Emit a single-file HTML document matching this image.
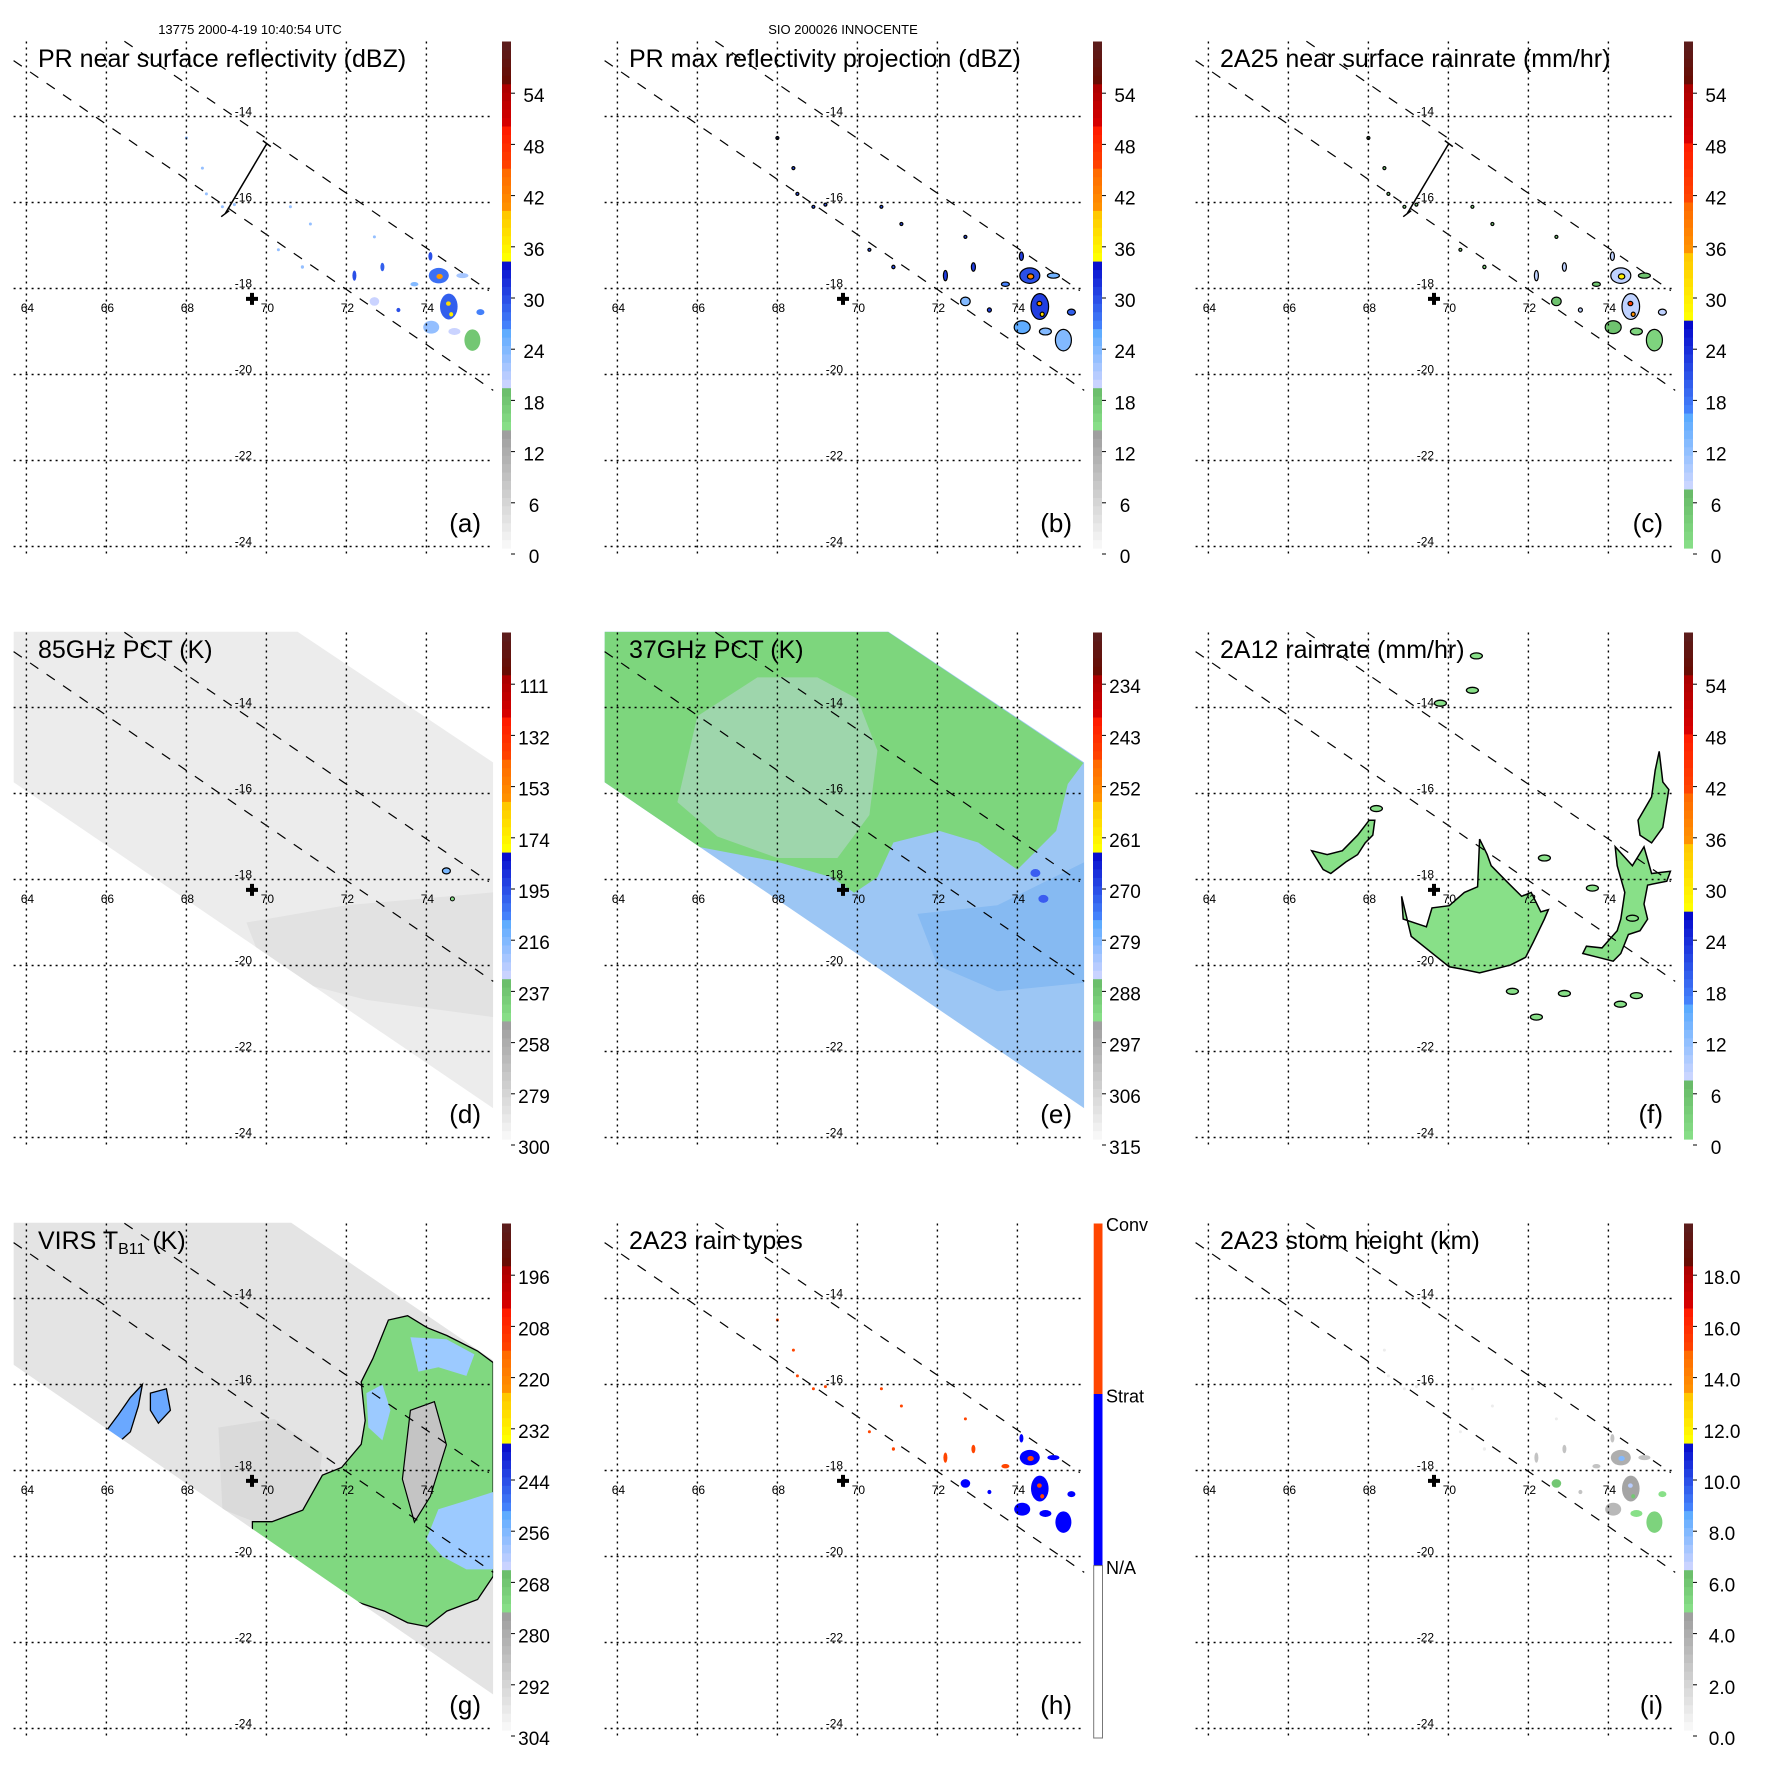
<!DOCTYPE html>
<html><head><meta charset="utf-8"><title>TRMM INNOCENTE 9-panel</title>
<style>
html,body{margin:0;padding:0;background:#fff;}
svg{display:block;font-family:"Liberation Sans",Arial,sans-serif;}
</style></head>
<body>
<svg id="fig" width="1771" height="1771" viewBox="0 0 1771 1771" xmlns="http://www.w3.org/2000/svg">
<rect x="0" y="0" width="1771" height="1771" fill="#fff"/>
<text x="250" y="34" font-size="13" text-anchor="middle">13775 2000-4-19 10:40:54 UTC</text>
<text x="843" y="34" font-size="13" text-anchor="middle">SIO 200026 INNOCENTE</text>
</svg>
<script>
// ---- axis data ----
const lonTicks=[64,66,68,70,72,74];
const latTicks=[-14,-16,-18,-20,-22,-24];
const stormCenter=[69.64,-18.24];
const swathUpper=[[66.45,-12.25],[75.56,-18.05]];
const swathLower=[[63.68,-12.7],[75.67,-20.37]];
const crossSection=[[70.01,-14.63],[68.97,-16.26]];
// colorbar labels
const labelsDBZ=['0','6','12','18','24','30','36','42','48','54'];
const labels85=['300','279','258','237','216','195','174','153','132','111'];
const labels37=['315','306','297','288','279','270','261','252','243','234'];
const labelsRain=['0','6','12','18','24','30','36','42','48','54'];
const labelsVirs=['304','292','280','268','256','244','232','220','208','196'];
const labelsHt=['0.0','2.0','4.0','6.0','8.0','10.0','12.0','14.0','16.0','18.0'];
// storm cells seen by PR: lon, lat, rx(deg), ry(deg)
const cellLon=[74.31,74.33,74.56,74.55,74.62,74.12,75.35,75.15,74.9,72.7,72.2,72.9,73.3,74.1,73.7,74.7,68.0,68.4,68.5,68.9,69.2,70.6,71.1,70.9,72.7,70.3];
const cellLat=[-17.70,-17.72,-18.42,-18.35,-18.6,-18.9,-18.55,-19.2,-17.7,-18.3,-17.7,-17.5,-18.5,-17.25,-17.9,-19.0,-14.5,-15.2,-15.8,-16.1,-16.05,-16.1,-16.5,-17.5,-16.8,-17.1];
const cellRx=[0.25,0.08,0.22,0.06,0.05,0.2,0.1,0.2,0.15,0.12,0.05,0.05,0.05,0.05,0.1,0.15,0.03,0.03,0.03,0.03,0.03,0.03,0.03,0.04,0.03,0.03];
const cellRy=[0.18,0.06,0.3,0.05,0.05,0.15,0.07,0.25,0.06,0.1,0.12,0.1,0.05,0.1,0.05,0.08,0.03,0.03,0.03,0.03,0.03,0.03,0.03,0.04,0.03,0.03];
const dbzNear=[28,40,29,38,36,23,27,18,22,20,30,29,30,30,24,20,23,23,23,23,23,23,23,23,23,23];
const dbzMax=[30,42,31,40,38,26,29,24,25,24,31,31,31,31,27,24,30,30,30,30,30,30,30,30,30,30];
const rainPR=[3,10,3,14,12,2,3,1,2,2,3,3,3,3,2,1,1,1,1,1,1,1,1,1,1,1];
const rainType=[1,2,1,2,2,1,1,1,1,1,2,2,1,1,2,1,2,2,2,2,2,2,2,2,2,2];
const stormHt=[4,8,4.5,7,6,3.5,5,5.5,3,6,3,3,3,3,3,5,1,1,1,1,1,1,1,1,1,1];
// 2A12 rain areas (lon,lat polygons)
const rain12Central=[[68.83,-18.39],[68.87,-18.92],[69.45,-19.10],[69.59,-18.66],[70.02,-18.61],[70.4,-18.30],[70.73,-18.17],[70.78,-17.06],[70.97,-17.42],[71.07,-17.68],[71.45,-18.04],[71.83,-18.39],[72.07,-18.30],[72.31,-18.75],[72.5,-18.70],[72.4,-18.92],[72.12,-19.46],[71.93,-19.81],[71.55,-19.99],[70.78,-20.17],[70.31,-20.08],[70.02,-20.03],[69.07,-19.32]];
const rain12West=[[66.58,-17.33],[66.97,-17.42],[67.35,-17.33],[67.73,-16.97],[68.02,-16.62],[68.16,-16.62],[68.11,-16.97],[67.92,-17.15],[67.73,-17.42],[67.44,-17.59],[67.06,-17.86],[66.87,-17.77]];
const rain12East=[[74.17,-17.24],[74.6,-17.68],[74.89,-17.24],[75.08,-17.86],[75.55,-17.81],[75.46,-18.04],[74.98,-18.13],[74.89,-18.57],[74.98,-18.92],[74.79,-19.19],[74.5,-19.28],[74.31,-19.72],[74.12,-19.90],[73.74,-19.81],[73.36,-19.72],[73.45,-19.55],[73.84,-19.59],[74.22,-19.19],[74.31,-18.92],[74.41,-18.30],[74.22,-17.68]];
const rain12North=[[74.74,-16.62],[75.08,-16.08],[75.17,-15.46],[75.27,-15.02],[75.36,-15.73],[75.51,-15.91],[75.36,-16.79],[75.08,-17.15],[74.79,-16.97]];
const rain12SmallLon=[74.3,72.2,71.6,74.7,70.6,70.7,69.8,72.9,73.6,72.4,68.2,74.6];
const rain12SmallLat=[-20.9,-21.2,-20.6,-20.7,-13.6,-12.8,-13.9,-20.65,-18.2,-17.5,-16.35,-18.9];
// swath polygons
const tmiSwath=[[63.68,-12.24],[70.78,-12.24],[75.67,-15.28],[75.67,-23.32],[63.68,-15.74]];
const virsSwath=[[63.68,-12.24],[70.62,-12.24],[75.67,-15.44],[75.67,-23.21],[63.68,-15.54]];
const pct85Dark=[[69.5,-19.0],[72.0,-18.6],[75.67,-18.3],[75.67,-21.2],[72.5,-20.8],[70.0,-20.2]];
const pct37Green=[[63.68,-12.24],[70.76,-12.24],[75.65,-15.29],[75.26,-15.78],[74.97,-16.87],[74.0,-17.77],[73.02,-17.14],[72.05,-16.87],[70.9,-17.14],[70.5,-17.95],[69.92,-18.31],[69.36,-17.95],[68.0,-17.59],[65.96,-17.23],[63.66,-15.74]];
const pct37Mixed=[[66.0,-14.2],[67.5,-13.3],[69.0,-13.3],[70.0,-13.8],[70.5,-15.0],[70.3,-16.5],[69.5,-17.5],[68.0,-17.5],[66.5,-17.0],[65.5,-16.2]];
const pct37Dark=[[71.5,-18.8],[73.5,-18.6],[75.67,-17.6],[75.67,-20.4],[73.5,-20.6],[72.0,-20.0]];
const virsGreen=[[69.65,-19.19],[70.14,-19.19],[70.91,-18.92],[71.40,-18.11],[71.88,-17.93],[72.37,-17.39],[72.47,-16.84],[72.37,-15.94],[72.66,-15.40],[73.05,-14.50],[73.53,-14.40],[74.02,-14.68],[74.51,-14.86],[75.28,-15.22],[75.67,-15.49],[75.67,-20.46],[75.28,-21.00],[74.51,-21.27],[74.02,-21.63],[73.53,-21.54],[72.95,-21.27],[72.08,-21.00],[71.59,-20.64],[70.91,-20.19],[70.14,-19.82],[69.65,-19.55]];
const virsGrayIn=[[73.6,-16.6],[74.2,-16.4],[74.5,-17.4],[74.1,-18.6],[73.7,-19.2],[73.4,-18.2]];
const virsBlue1=[[74.3,-18.9],[75.0,-18.7],[75.67,-18.5],[75.67,-20.3],[75.0,-20.3],[74.4,-20.0],[74.0,-19.6]];
const virsBlue2=[[73.6,-14.9],[74.5,-14.95],[75.2,-15.3],[75.0,-15.8],[74.3,-15.6],[73.8,-15.7]];
const virsBlue3=[[72.5,-16.2],[72.9,-16.0],[73.1,-16.6],[72.9,-17.3],[72.55,-17.0]];
const virsWest=[[65.9,-17.2],[66.3,-16.7],[66.6,-16.3],[66.9,-16.0],[66.8,-16.5],[66.6,-17.1],[66.3,-17.35]];
const virsWest2=[[67.1,-16.2],[67.5,-16.1],[67.6,-16.6],[67.3,-16.9],[67.1,-16.6]];
const virsEye=[[68.8,-17.0],[70.2,-16.8],[71.4,-17.6],[71.2,-18.9],[70.0,-19.3],[68.9,-18.9]];

const OFF=591;
function px(lon){return 26.4+(lon-64)*40;}
function py(lat){return 116.5+(-14-lat)*43;}
const svg=document.getElementById('fig');
const NS='http://www.w3.org/2000/svg';
function mk(tag,attrs,parent){const e=document.createElementNS(NS,tag);for(const k in attrs)e.setAttribute(k,attrs[k]);(parent||svg).appendChild(e);return e;}
function poly(pts){return pts.map(p=>px(p[0]).toFixed(1)+','+py(p[1]).toFixed(1)).join(' ');}

const bandsRef=[[0,0.238,'#fafafa','#9a9a9a'],[0.238,0.322,'#88e088','#66b866'],[0.322,0.43,'#ccd4ff','#5aaaff'],[0.43,0.575,'#4a8cff','#0000c8'],[0.575,0.659,'#ffff00','#ffc800'],[0.659,0.743,'#ff9900','#ff6a00'],[0.743,0.828,'#ff4a00','#ff1a00'],[0.828,0.916,'#dd0000','#a80000'],[0.916,1,'#6a0a00','#5a1e1e']];
const bandsRain=[[0,0.117,'#88e088','#66b866'],[0.117,0.26,'#d0d8ff','#5aaaff'],[0.26,0.456,'#4a8cff','#0000c8'],[0.456,0.577,'#ffff00','#ffc800'],[0.577,0.675,'#ff9900','#ff6a00'],[0.675,0.80,'#ff4a00','#ff1a00'],[0.80,0.915,'#dd0000','#a80000'],[0.915,1,'#6a0a00','#5a1e1e']];
function hx(c){return [parseInt(c.substr(1,2),16),parseInt(c.substr(3,2),16),parseInt(c.substr(5,2),16)];}
function lerp(a,b,t){const A=hx(a),B=hx(b);return 'rgb('+A.map((v,i)=>Math.round(v+(B[i]-v)*t)).join(',')+')';}
function cmap(bands,f){f=Math.max(0,Math.min(0.999,f));for(const b of bands){if(f>=b[0]&&f<b[1])return lerp(b[2],b[3],(f-b[0])/(b[1]-b[0]));}return bands[bands.length-1][3];}
const CB_TOP=41.5,CB_BOT=548,CB_H=CB_BOT-CB_TOP;
function fracDBZ(v){return (8.6*v-8)/CB_H;}
function fracRain(v){return (8.6*v*3-8)/CB_H;}
function fracHt(v){return (8.6*v*3-8)/CB_H;}

function swathClip(m,id,pts){
  const cp=mk('clipPath',{id:id},m);mk('polygon',{points:poly(pts)},cp);
  const g=mk('g',{'clip-path':'url(#'+id+')'},m);
  
  
  return g;
}

function panel(col,row,opts){
  const g=mk('g',{transform:'translate('+(col*OFF)+','+(row*OFF)+')'});
  
  
  const cid='clip-'+opts.id;
  const cp=mk('clipPath',{id:cid},g);mk('rect',{x:13.6,y:40.5,width:479.6,height:517},cp);
  const map=mk('g',{'clip-path':'url(#'+cid+')'},g);
  
  
  if(opts.draw)opts.draw(map);
  // grid
  const grid=mk('g',{stroke:'#000','stroke-width':1.4,'stroke-dasharray':'2,4',fill:'none'},g);
  
  
  lonTicks.forEach(l=>{const ln=mk('line',{x1:px(l),x2:px(l),y1:41.5,y2:557},grid);});
  latTicks.forEach(l=>{const ln=mk('line',{x1:13.6,x2:493,y1:py(l),y2:py(l)},grid);});
  lonTicks.forEach(l=>{const t=mk('text',{x:px(l)+1,y:312,'font-size':12,'text-anchor':'middle'},g);t.textContent=String(l);});
  latTicks.forEach(l=>{const t=mk('text',{x:px(69.5)-3,y:py(l)-1,'font-size':12,'text-anchor':'middle'},g);t.textContent=String(l);});
  // swath lines
  [swathUpper,swathLower].forEach((s,i)=>{const ln=mk('line',{x1:px(s[0][0]),y1:py(s[0][1]),x2:px(s[1][0]),y2:py(s[1][1]),stroke:'#000','stroke-width':1.2,'stroke-dasharray':'10,10'},g);});
  if(opts.cross){
    const c=crossSection;const ln=mk('line',{x1:px(c[0][0]),y1:py(c[0][1]),x2:px(c[1][0]),y2:py(c[1][1]),stroke:'#000','stroke-width':1.5},g);
    
    [[c[0],1],[c[1],-1]].forEach(e=>{const x=px(e[0][0]),y=py(e[0][1]);const tk=mk('line',{x1:x-4*e[1],y1:y-3,x2:x+4*e[1],y2:y+3,stroke:'#000','stroke-width':1.5},g);});
  }
  // storm center
  const cx=px(stormCenter[0]),cy=py(stormCenter[1]);
  const plus=mk('path',{d:'M'+(cx-6)+','+(cy-2)+'h12v4h-12zM'+(cx-2)+','+(cy-6)+'h4v12h-4z',fill:'#000'},g);
  
  // title
  const t=mk('text',{x:38,y:67,'font-size':25},g);
  if(opts.sub){t.textContent=opts.title;const s=mk('tspan',{'font-size':16,dy:5},t);s.textContent=opts.sub;const s2=mk('tspan',{dy:-5},t);s2.textContent=' (K)';}
  else t.textContent=opts.title;
  const lt=mk('text',{x:481,y:532,'font-size':26,'text-anchor':'end'},g);lt.textContent='('+opts.id+')';
  // colorbar
  const cb=mk('g',{},g);
  if(opts.types){
    const y1=CB_TOP,y2=212,y3=383.6,y4=556;
    mk('rect',{x:502.7,y:y1,width:8.8,height:y2-y1,fill:'#ff4500'},cb);
    mk('rect',{x:502.7,y:y2,width:8.8,height:y3-y2,fill:'#0000ff'},cb);
    mk('rect',{x:502.7,y:y3,width:8.8,height:y4-y3,fill:'#fff',stroke:'#777','stroke-width':1},cb);
    [['Conv',49],['Strat',220.6],['N/A',392]].forEach(l=>{const tx=mk('text',{x:515,y:l[1],'font-size':18},cb);tx.textContent=l[0];});
  } else {
    const N=60;
    for(let i=0;i<N;i++){const f0=i/N;const y=CB_BOT-(i+1)/N*CB_H;mk('rect',{x:502,y:y.toFixed(2),width:9,height:(CB_H/N+0.6).toFixed(2),fill:cmap(opts.bands,f0+0.5/N)},cb);}
    opts.labels.forEach((lab,k)=>{const y=556-k*51.2;mk('line',{x1:511,x2:515,y1:y-2,y2:y-2,stroke:'#000','stroke-width':1},cb);const tx=mk('text',{x:opts.lx||534,y:y+7,'font-size':19,'text-anchor':'middle'},cb);tx.textContent=lab;});
  }
}
function cells(m,vals,colorFn,outline){
  cellLon.forEach((lon,i)=>{
    const e=mk('ellipse',{cx:px(lon),cy:py(cellLat[i]),rx:Math.max(1.5,cellRx[i]*40),ry:Math.max(1.5,cellRy[i]*43),fill:colorFn(vals[i])},m);
    if(outline)e.setAttribute('stroke','#000'),e.setAttribute('stroke-width',1.2);
    
    
  });
}
// (a)
panel(0,0,{id:'a',title:'PR near surface reflectivity (dBZ)',labels:labelsDBZ,bands:bandsRef,cross:true,draw:m=>cells(m,dbzNear,v=>cmap(bandsRef,fracDBZ(v)),false)});
// (b)
panel(1,0,{id:'b',title:'PR max reflectivity projection (dBZ)',labels:labelsDBZ,bands:bandsRef,draw:m=>cells(m,dbzMax,v=>cmap(bandsRef,fracDBZ(v)),true)});
// (c)
panel(2,0,{id:'c',title:'2A25 near surface rainrate (mm/hr)',labels:labelsRain,bands:bandsRain,cross:true,draw:m=>cells(m,rainPR,v=>cmap(bandsRain,fracRain(v)),true)});
// (d)
panel(0,1,{id:'d',title:'85GHz PCT (K)',labels:labels85,bands:bandsRef,draw:m=>{
  const s=mk('polygon',{points:poly(tmiSwath),fill:'#ececec'},m);
  const sc=swathClip(m,'sw-d',tmiSwath);
  const d=mk('polygon',{points:poly(pct85Dark),fill:'#e2e2e2'},sc);
  const a=mk('ellipse',{cx:px(74.5),cy:py(-17.8),rx:4,ry:3,fill:'#7ab8ff',stroke:'#000','stroke-width':1.2},m);
  const b=mk('ellipse',{cx:px(74.65),cy:py(-18.45),rx:2,ry:2,fill:'#88e088',stroke:'#000','stroke-width':1},m);
}});
// (e)
panel(1,1,{id:'e',title:'37GHz PCT (K)',labels:labels37,bands:bandsRef,draw:m=>{
  const s=mk('polygon',{points:poly(tmiSwath),fill:'#9cc6f4'},m);
  const sc=swathClip(m,'sw-e',tmiSwath);
  const d=mk('polygon',{points:poly(pct37Dark),fill:'#86baf2'},sc);
  const gr=mk('polygon',{points:poly(pct37Green),fill:'#7dd67d'},sc);
  const mx=mk('polygon',{points:poly(pct37Mixed),fill:'#9ed6ac'},sc);
  [[74.45,-17.85],[74.65,-18.45]].forEach(p=>{const c=mk('ellipse',{cx:px(p[0]),cy:py(p[1]),rx:5,ry:4,fill:'#3a5cf0'},sc);});
}});
// (f)
panel(2,1,{id:'f',title:'2A12 rainrate (mm/hr)',labels:labelsRain,bands:bandsRain,draw:m=>{
  [rain12Central,rain12West,rain12East,rain12North].forEach(p=>{const e=mk('polygon',{points:poly(p),fill:'#88e088',stroke:'#000','stroke-width':1.5},m);});
  rain12SmallLon.forEach((lon,i)=>{const e=mk('ellipse',{cx:px(lon),cy:py(rain12SmallLat[i]),rx:6,ry:3,fill:'#88e088',stroke:'#000','stroke-width':1.3},m);});
}});
// (g)
panel(0,2,{id:'g',title:'VIRS T',sub:'B11',labels:labelsVirs,bands:bandsRef,draw:m=>{
  const s=mk('polygon',{points:poly(virsSwath),fill:'#e4e4e4'},m);
  const sc=swathClip(m,'sw-g',virsSwath);
  const ey=mk('polygon',{points:poly(virsEye),fill:'#dadada'},sc);
  const gr=mk('polygon',{points:poly(virsGreen),fill:'#80d880',stroke:'#000','stroke-width':1.3},sc);
  const gi=mk('polygon',{points:poly(virsGrayIn),fill:'#c4c4c4',stroke:'#000','stroke-width':1.2},sc);
  [virsBlue1,virsBlue2,virsBlue3].forEach(p=>{const b=mk('polygon',{points:poly(p),fill:'#9ccaff'},sc);});
  [virsWest,virsWest2].forEach(p=>{const b=mk('polygon',{points:poly(p),fill:'#6aa8ff',stroke:'#000','stroke-width':1.3},sc);});
}});
// (h)
panel(1,2,{id:'h',title:'2A23 rain types',types:true,draw:m=>cells(m,rainType,v=>v===2?'#ff4500':'#0000ff',false)});
// (i)
panel(2,2,{id:'i',title:'2A23 storm height (km)',labels:labelsHt,bands:bandsRef,lx:540,draw:m=>cells(m,stormHt,v=>cmap(bandsRef,fracHt(v)),false)});
</script>
</body></html>
